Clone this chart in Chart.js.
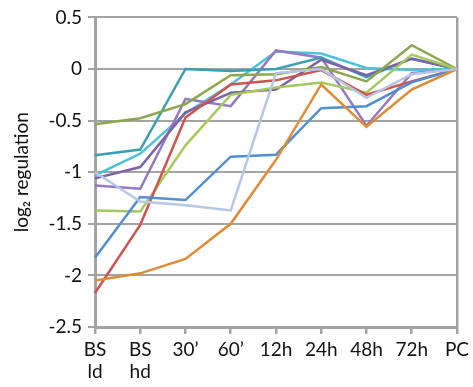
<!DOCTYPE html>
<html>
<head>
<meta charset="utf-8">
<script src="https://cdn.jsdelivr.net/npm/chart.js@4"></script>
<style>
  body { margin: 0; background: #fff; }
</style>
</head>
<body>
<canvas id="regChart" width="473" height="387"></canvas>
<script>
// time points
var categories = [['BS', 'ld'], ['BS', 'hd'], '30\u2019', '60\u2019', '12h', '24h', '48h', '72h', 'PC'];
var yTicks = [0.5, 0, -0.5, -1, -1.5, -2, -2.5];

// log2 regulation per gene
var blue       = [-1.83, -1.24, -1.27, -0.85, -0.83, -0.38, -0.36, -0.13, 0];
var red        = [-2.17, -1.51, -0.47, -0.15, -0.11, -0.01, -0.25, -0.12, 0];
var olive      = [-0.535, -0.477, -0.34, -0.06, -0.05, 0.02, -0.12, 0.23, 0];
var darkPurple = [-1.06, -0.95, -0.42, -0.23, -0.2, 0.09, -0.06, 0.1, 0];
var purple     = [-1.13, -1.16, -0.29, -0.36, 0.18, 0.11, -0.55, -0.04, 0];
var teal       = [-0.835, -0.78, 0, -0.02, 0, 0.11, -0.08, 0.1, 0];
var cyan       = [-1.03, -0.82, -0.43, -0.15, 0.17, 0.15, 0.01, -0.01, 0];
var orange     = [-2.05, -1.98, -1.84, -1.5, -0.88, -0.15, -0.56, -0.2, 0];
var lightGreen = [-1.37, -1.38, -0.74, -0.25, -0.18, -0.13, -0.23, 0.14, 0];
var lightBlue  = [-1.0, -1.285, -1.32, -1.37, -0.04, 0.0, -0.28, -0.05, 0];

var series = [
  { data: lightBlue, color: '#b4c7e4' },
  { data: orange, color: '#e08b36' },
  { data: blue, color: '#4f8fd2' },
  { data: red, color: '#cf534f' },
  { data: lightGreen, color: '#a5c95d' },
  { data: olive, color: '#8ca64c' },
  { data: darkPurple, color: '#7c62a6' },
  { data: teal, color: '#389fb4' },
  { data: purple, color: '#9479c2' },
  { data: cyan, color: '#4cc1dc' }
];

var axisGray = '#a3a3a3';
var font = { family: 'Lato, "Liberation Sans", sans-serif', size: 19 };

var datasets = series.map(function(s) {
  return {
    data: s.data,
    borderColor: s.color,
    backgroundColor: s.color,
    borderWidth: 2.5,
    pointRadius: 0,
    tension: 0,
    fill: false
  };
});

new Chart(document.getElementById('regChart'), {
  type: 'line',
  data: { labels: categories, datasets: datasets },
  options: {
    responsive: false,
    animation: false,
    layout: { padding: { top: 16, right: 12, left: 0, bottom: 0 } },
    plugins: { legend: { display: false }, tooltip: { enabled: false } },
    scales: {
      x: {
        offset: false,
        grid: {
          color: function(ctx) { return ctx.index === categories.length - 1 ? axisGray : 'rgba(0,0,0,0)'; },
          lineWidth: 2.5,
          tickColor: axisGray,
          tickLength: 7
        },
        border: { color: axisGray, width: 3 },
        ticks: { color: '#111', font: font, padding: 4, maxRotation: 0, autoSkip: false },
        afterFit: function(s) { s.height = 60; }
      },
      y: {
        min: -2.5,
        max: 0.5,
        afterBuildTicks: function(s) { s.ticks = yTicks.map(function(v) { return { value: v }; }); },
        grid: { color: axisGray, lineWidth: 2, tickColor: axisGray, tickLength: 7 },
        border: { color: axisGray, width: 3 },
        ticks: {
          color: '#111',
          font: font,
          padding: 6,
          callback: function(v) { return String(v); }
        },
        title: { display: true, text: 'log\u2082 regulation', color: '#111', font: font, padding: { top: 10, bottom: 0 } },
        afterFit: function(s) { s.width = 95; }
      }
    }
  }
});
</script>
</body>
</html>
